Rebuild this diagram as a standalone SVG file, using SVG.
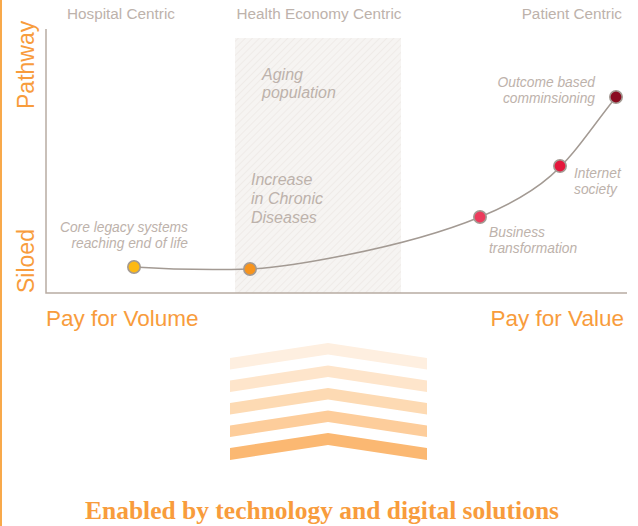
<svg xmlns="http://www.w3.org/2000/svg" width="638" height="526" viewBox="0 0 638 526">
<style>
.hdr{font-family:"Liberation Sans",Arial,sans-serif;font-size:15.3px;fill:#BDB2AB}
.lbl{font-family:"Liberation Sans",Arial,sans-serif;font-style:italic;font-size:13.8px;fill:#BDB2AB}
.big{font-family:"Liberation Sans",Arial,sans-serif;font-style:italic;font-size:16px;fill:#BDB2AB}
.ax{font-family:"Liberation Sans",Arial,sans-serif;font-size:22.5px;fill:#F89C3C}
.yax{font-family:"Liberation Sans",Arial,sans-serif;font-size:23px;fill:#F89C3C}
.dot{stroke:#A39A93;stroke-width:1.6}
.axis{stroke:#B8ACA3;stroke-width:1.5;fill:none}
</style>
<defs>
<pattern id="hatch" patternUnits="userSpaceOnUse" width="5" height="5" patternTransform="rotate(45)">
<rect width="5" height="5" fill="#F6F4F2"/>
<line x1="0" y1="0" x2="0" y2="5" stroke="#E8E3DE" stroke-width="1"/>
</pattern>
</defs>
<rect width="638" height="526" fill="#FFFFFF"/>
<line x1="1" y1="0" x2="1" y2="526" stroke="#F7941D" stroke-width="1.6"/>
<rect id="band" x="235" y="38" width="166" height="255" fill="url(#hatch)"/>
<g id="axes">
<polyline class="axis" points="46,29 46,293 627,293"/>
</g>
<text class="hdr" x="67" y="19">Hospital Centric</text>
<text class="hdr" x="319" y="19" text-anchor="middle">Health Economy Centric</text>
<text class="hdr" x="622" y="19" text-anchor="end">Patient Centric</text>
<text class="yax" transform="translate(34,109) rotate(-90)">Pathway</text>
<text class="yax" transform="translate(34,293) rotate(-90)">Siloed</text>
<text class="ax" x="46" y="326">Pay for Volume</text>
<text class="ax" x="624" y="326" text-anchor="end">Pay for Value</text>
<g id="drivers">
<text class="big" x="262" y="80">Aging</text>
<text class="big" x="262" y="98">population</text>
<text class="big" x="251" y="185">Increase</text>
<text class="big" x="251" y="204">in Chronic</text>
<text class="big" x="251" y="223">Diseases</text>
</g>
<g id="connectors">
<path d="M134,267 C180,270 220,270 250,269 S400,250 480,217 S570,155 616,97" fill="none" stroke="#A39A93" stroke-width="1.5"/>
</g>
<g id="node-core">
<circle class="dot" cx="134" cy="267" r="6.2" fill="#FDB913"/>
<text class="lbl" x="188" y="232" text-anchor="end">Core legacy systems</text>
<text class="lbl" x="188" y="248" text-anchor="end">reaching end of life</text>
</g>
<g id="node-chronic">
<circle class="dot" cx="250" cy="269" r="6.2" fill="#F7941D"/>
</g>
<g id="node-business">
<circle class="dot" cx="480" cy="217" r="6.2" fill="#EC3B5C"/>
<text class="lbl" x="489" y="237">Business</text>
<text class="lbl" x="489" y="253">transformation</text>
</g>
<g id="node-internet">
<circle class="dot" cx="560" cy="166" r="6.2" fill="#E5173C"/>
<text class="lbl" x="574" y="178">Internet</text>
<text class="lbl" x="574" y="194">society</text>
</g>
<g id="node-outcome">
<circle class="dot" cx="616" cy="97" r="6.2" fill="#8A0B20"/>
<text class="lbl" x="595" y="87" text-anchor="end">Outcome based</text>
<text class="lbl" x="595" y="103" text-anchor="end">comminsioning</text>
</g>
<g id="chevrons">
<polygon points="230,358 328,343 427,358 427,369.5 328,354.5 230,369.5" fill="#FEEFE0"/>
<polygon points="230,380.5 328,365.5 427,380.5 427,392 328,377 230,392" fill="#FEE5CB"/>
<polygon points="230,403 328,388 427,403 427,414.5 328,399.5 230,414.5" fill="#FDDAB3"/>
<polygon points="230,425.5 328,410.5 427,425.5 427,437 328,422 230,437" fill="#FDCD9B"/>
<polygon points="230,448 328,433 427,448 427,460 328,445 230,460" fill="#FBB872"/>
</g>
<text x="322" y="519" text-anchor="middle" style="font-family:'Liberation Serif','Times New Roman',serif;font-weight:bold;font-size:25.5px;fill:#F89C3C">Enabled by technology and digital solutions</text>
</svg>
